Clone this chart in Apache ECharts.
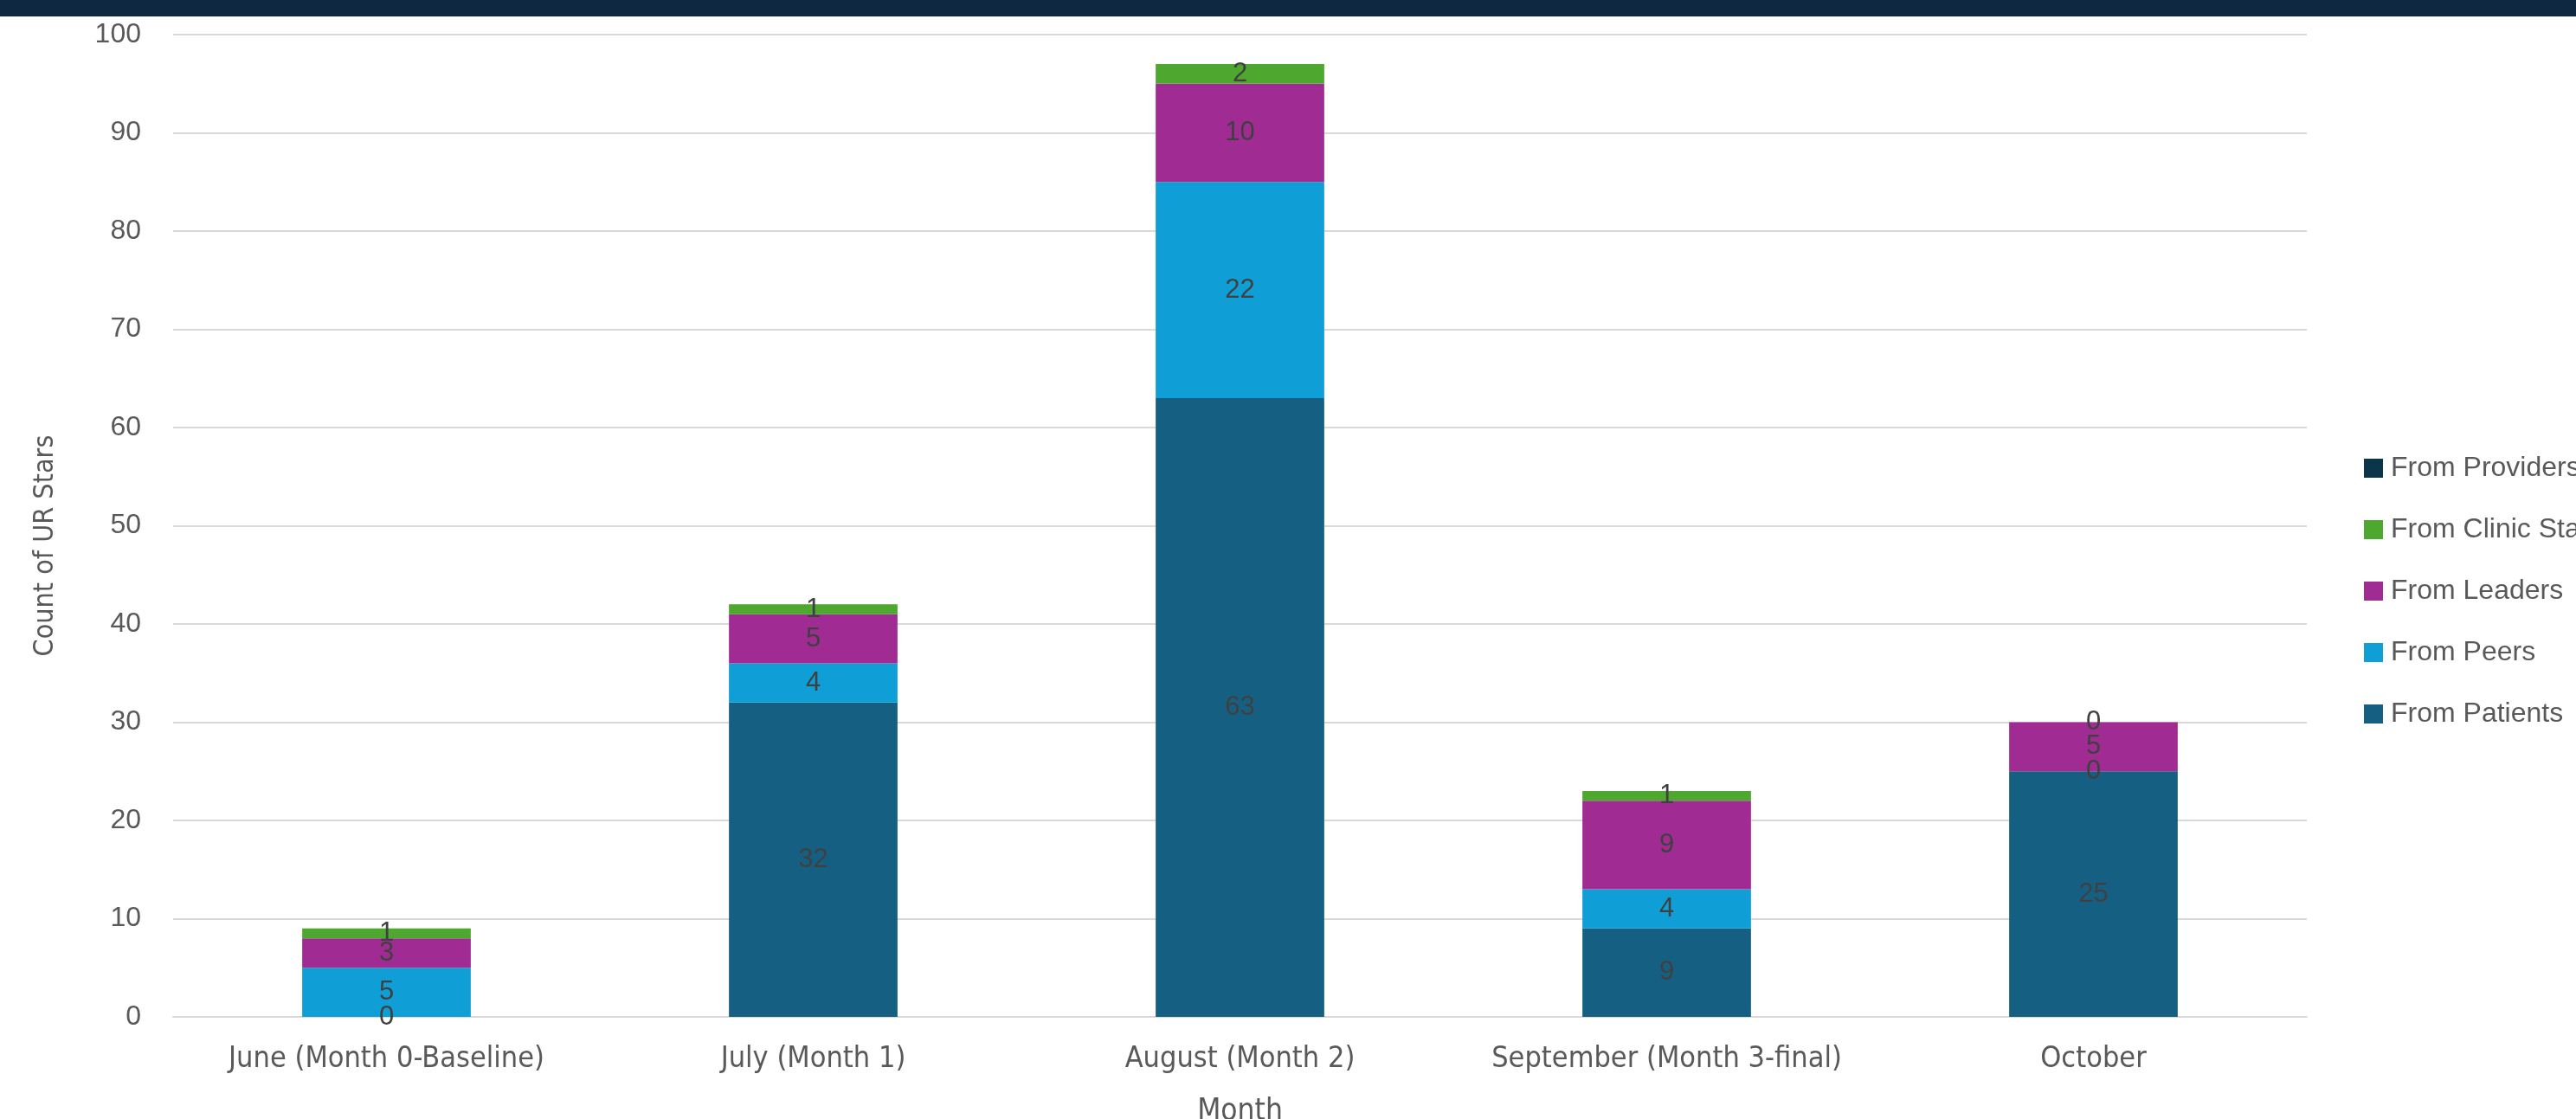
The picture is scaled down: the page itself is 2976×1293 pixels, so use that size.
<!DOCTYPE html>
<html>
<head>
<meta charset="utf-8">
<script src="https://cdn.jsdelivr.net/npm/echarts@6/dist/echarts.min.js"></script>
<style>
  html, body { margin: 0; padding: 0; background: #ffffff; }
  #chart { width: 2976px; height: 1293px; }
</style>
</head>
<body>
<div id="chart"></div>
<script>
// data
const months = ['June (Month 0-Baseline)', 'July (Month 1)', 'August (Month 2)', 'September (Month 3-final)', 'October'];
const fromPatients = [0, 32, 63, 9, 25];
const fromPeers = [5, 4, 22, 4, 0];
const fromLeaders = [3, 5, 10, 9, 5];
const fromClinicStaff = [1, 1, 2, 1, 0];
const fromProviders = [null, null, null, null, null];
const legendOrder = ['From Providers', 'From Clinic Staff', 'From Leaders', 'From Peers', 'From Patients'];

const narrow = '"Liberation Sans Narrow", "DejaVu Sans Condensed", "Liberation Sans", sans-serif';
const plain = '"Liberation Sans", Arial, sans-serif';

const chart = echarts.init(document.getElementById('chart'));

function seg(name, data, color) {
    return {
        name: name,
        type: 'bar',
        stack: 'total',
        data: data,
        barWidth: '39.5%',
        itemStyle: { color: color },
        label: {
            show: true,
            position: 'inside',
            color: '#404040',
            fontFamily: plain,
            fontSize: 31
        }
    };
}

const option = {
    animation: false,
    backgroundColor: '#ffffff',
    graphic: [
        {
            // dark banner left over from the slide above the chart
            type: 'rect',
            left: 0,
            top: 0,
            shape: { width: 2976, height: 19 },
            style: { fill: '#0E2841' }
        }
    ],
    legend: {
        orient: 'vertical',
        left: 2726,
        top: 520,
        itemWidth: 22,
        itemHeight: 22,
        itemGap: 39,
        icon: 'rect',
        data: legendOrder,
        textStyle: {
            color: '#595959',
            fontFamily: plain,
            fontSize: 32,
            padding: [0, 0, 0, 4]
        }
    },
    grid: {
        left: 200,
        right: 311,
        top: 40,
        bottom: 118,
        containLabel: false,
        outerBoundsMode: 'none'
    },
    xAxis: {
        type: 'category',
        data: months,
        name: 'Month',
        nameLocation: 'middle',
        nameGap: 92,
        nameTextStyle: { color: '#595959', fontFamily: narrow, fontSize: 35 },
        axisLine: { lineStyle: { color: '#d9d9d9', width: 2 } },
        axisTick: { show: false },
        axisLabel: {
            interval: 0,
            color: '#595959',
            fontFamily: narrow,
            fontSize: 34,
            margin: 32
        }
    },
    yAxis: {
        type: 'value',
        min: 0,
        max: 100,
        interval: 10,
        name: 'Count of UR Stars',
        nameLocation: 'middle',
        nameGap: 131,
        nameTextStyle: {
            color: '#595959',
            fontFamily: narrow,
            fontSize: 32,
            padding: [0, 46, 0, 0]
        },
        axisLine: { show: false },
        axisTick: { show: false },
        splitLine: { lineStyle: { color: '#d9d9d9', width: 2 } },
        axisLabel: {
            color: '#595959',
            fontFamily: plain,
            fontSize: 32,
            margin: 37
        }
    },
    series: [
        seg('From Patients', fromPatients, '#156082'),
        seg('From Peers', fromPeers, '#0F9ED5'),
        seg('From Leaders', fromLeaders, '#A02B93'),
        seg('From Clinic Staff', fromClinicStaff, '#4EA72E'),
        seg('From Providers', fromProviders, '#0B3548')
    ]
};

chart.setOption(option);
</script>
</body>
</html>
